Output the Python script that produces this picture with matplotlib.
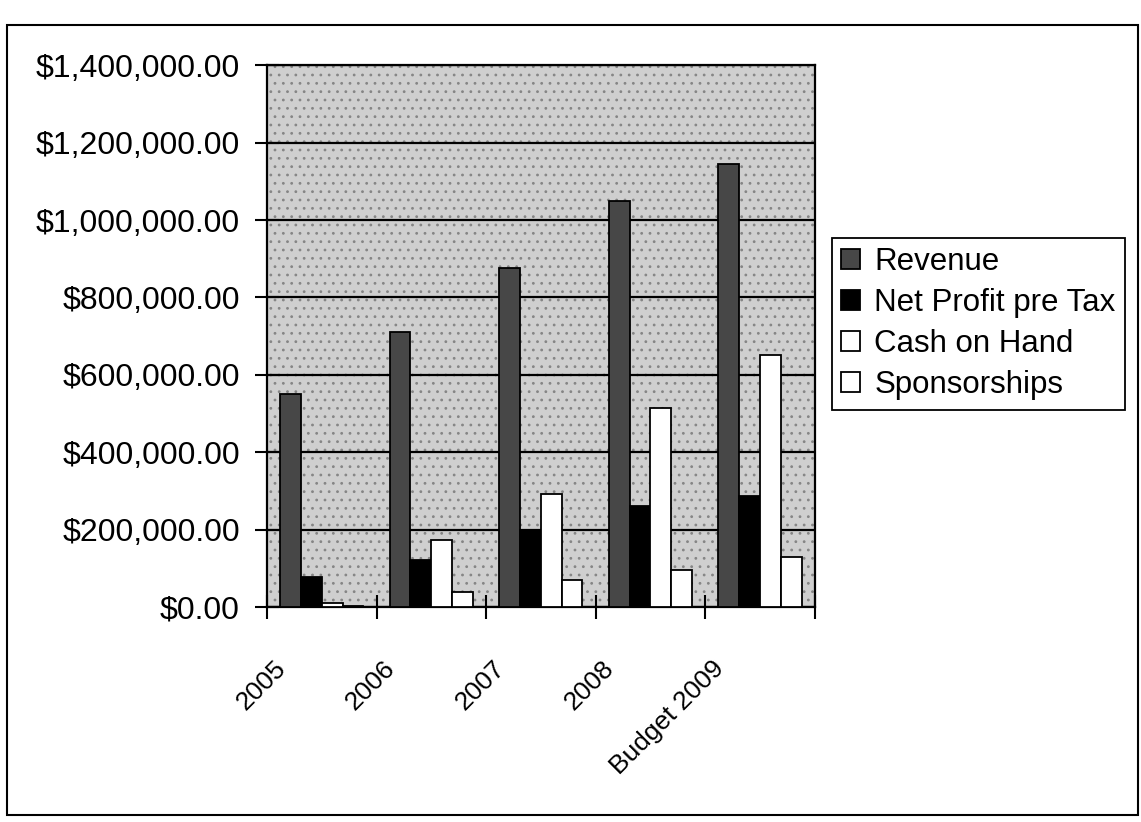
import numpy as np
import matplotlib as mpl
mpl.use('Agg')
import matplotlib.pyplot as plt
from matplotlib.patches import Rectangle
from matplotlib.ticker import FuncFormatter
from matplotlib.transforms import ScaledTranslation

years = ['2005', '2006', '2007', '2008', 'Budget 2009']
revenue = [550000, 710000, 875000, 1050000, 1145000]
net_profit = [78000, 122000, 200000, 260000, 288000]
cash_on_hand = [10000, 174000, 293000, 513000, 650000]
sponsorships = [3000, 39000, 70000, 95000, 128000]

series_names = ['Revenue', 'Net Profit pre Tax', 'Cash on Hand', 'Sponsorships']
series_colors = ['#474747', 'black', 'white', 'white']

mpl.rcParams['font.family'] = ['Liberation Sans', 'DejaVu Sans']
mpl.rcParams['hatch.linewidth'] = 0.8

fig = plt.figure(figsize=(11.41, 8.22), dpi=100)
ax = fig.add_axes([0.234, 0.2616, 0.480, 0.659])
ax.set_facecolor('#cfcfcf')
# grainy scan background
ax.add_patch(Rectangle((0, 0), 1, 1, transform=ax.transAxes, facecolor='none',
	edgecolor='#858585', hatch='..', linewidth=0, zorder=0.5))

x = np.arange(len(years))
bar_w = 0.19
all_series = [revenue, net_profit, cash_on_hand, sponsorships]
for i, vals in enumerate(all_series):
	ax.bar(x + 0.5 + (i - 1.5) * bar_w, vals, bar_w, color=series_colors[i],
		edgecolor='black', linewidth=1.3, label=series_names[i], zorder=3)

ax.set_xlim(0, len(years))
ax.set_ylim(0, 1400000)
ax.set_yticks(np.arange(0, 1400001, 200000))
ax.yaxis.set_major_formatter(FuncFormatter(lambda v, p: f'${v:,.2f}'))
ax.grid(axis='y', color='black', linewidth=1.6, zorder=1)
ax.set_axisbelow(True)

ax.set_xticks(x + 0.5)
ax.set_xticklabels(years)
ax.set_xticks(np.arange(len(years) + 1), minor=True)
ax.tick_params(axis='x', which='major', length=0, pad=0, labelsize=19)
ax.tick_params(axis='x', which='minor', length=17, width=1.5, direction='inout')
ax.tick_params(axis='y', length=17, width=1.5, direction='inout', labelsize=23, pad=11)
for sp in ax.spines.values():
	sp.set_linewidth(1.6)

offset = ScaledTranslation(-0.40, -0.58, fig.dpi_scale_trans)
for lab in ax.get_xticklabels():
	lab.set_rotation(45)
	lab.set_ha('right')
	lab.set_va('center')
	lab.set_rotation_mode('anchor')
	lab.set_transform(lab.get_transform() + offset)

leg = ax.legend(loc='upper left', bbox_to_anchor=(832 / 1141, 1 - 238 / 822),
	bbox_transform=fig.transFigure, fontsize=22.5, frameon=True, fancybox=False,
	edgecolor='black', framealpha=1, borderpad=0.3, labelspacing=0.35,
	handlelength=0.6, handleheight=0.6, handletextpad=0.45, borderaxespad=0)
leg.get_frame().set_linewidth(1.3)

fig.patches.append(Rectangle((0.006, 0.0085), 0.991, 0.9615, transform=fig.transFigure,
	fill=False, edgecolor='black', linewidth=1.5))

fig.savefig('out.png', dpi=100)
